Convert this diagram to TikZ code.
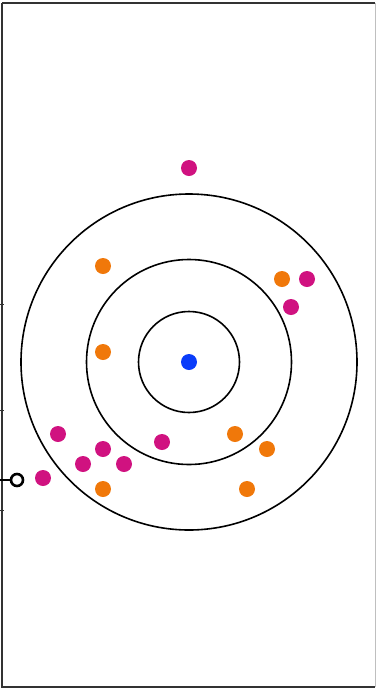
\documentclass[tikz,border=0pt]{standalone}
\definecolor{mag}{RGB}{208,18,128}
\definecolor{org}{RGB}{240,120,10}
\definecolor{blu}{RGB}{10,60,250}
\begin{document}
\begin{tikzpicture}[x=1pt,y=-1pt,
  ring/.style={draw=black,line width=1.6pt},
  mdot/.style={circle,fill=mag,minimum size=16pt,inner sep=0pt},
  odot/.style={circle,fill=org,minimum size=16pt,inner sep=0pt},
  bdot/.style={circle,fill=blu,minimum size=16pt,inner sep=0pt}]
\useasboundingbox (0,0) rectangle (376,689);
\draw[draw=black!80,line width=2pt] (2,3) -- (2,687) -- (375,687);
\draw[draw=black!80,line width=2pt] (2,3) -- (375,3);
\draw[draw=black!25,line width=0.8pt] (375,3) -- (375,687);
\foreach \yy in {304,410,510} \draw[black!80,line width=0.8pt] (0,\yy) -- (4,\yy);
\node[circle,draw=black,line width=2.6pt,minimum size=12pt,inner sep=0pt,fill=white] (port) at (17,480) {};
\coordinate (portL) at (0,480);
\draw[black,line width=2.4pt] (portL) -- (port);
\node[ring,circle,minimum size=101pt,inner sep=0pt] (r1) at (189,362) {};
\node[ring,circle,minimum size=205pt,inner sep=0pt] (r2) at (189,362) {};
\node[ring,circle,minimum size=336pt,inner sep=0pt] (r3) at (189,362) {};
\node[bdot] (c) at (189,362) {};
\node[mdot] (m1) at (189,168) {};
\node[mdot] (m2) at (307,279) {};
\node[mdot] (m3) at (291,307) {};
\node[mdot] (m4) at (58,434) {};
\node[mdot] (m5) at (103,449) {};
\node[mdot] (m6) at (162,442) {};
\node[mdot] (m7) at (83,464) {};
\node[mdot] (m8) at (124,464) {};
\node[mdot] (m9) at (43,478) {};
\node[odot] (o1) at (103,266) {};
\node[odot] (o2) at (282,279) {};
\node[odot] (o3) at (103,352) {};
\node[odot] (o4) at (235,434) {};
\node[odot] (o5) at (267,449) {};
\node[odot] (o6) at (103,489) {};
\node[odot] (o7) at (247,489) {};
\end{tikzpicture}
\end{document}
